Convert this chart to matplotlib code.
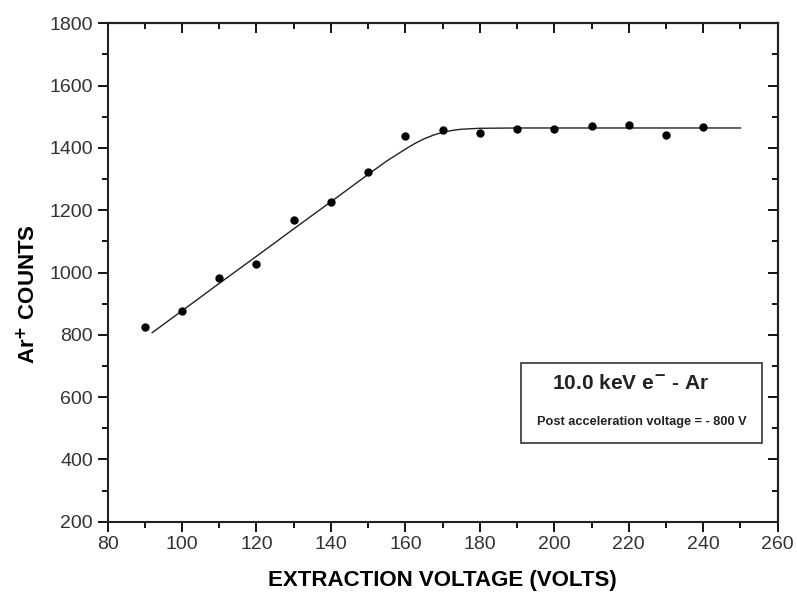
import numpy as np
import matplotlib.pyplot as plt
from matplotlib.ticker import MultipleLocator

plt.rcParams['font.family'] = ['Liberation Sans', 'DejaVu Sans']

voltage = [90, 100, 110, 120, 130, 140, 150, 160, 170, 180, 190, 200, 210, 220, 230, 240]
counts = [824, 878, 983, 1028, 1167, 1225, 1322, 1437, 1457, 1449, 1460, 1460, 1470, 1473, 1441, 1467]

# --- fitted curve ---
fit_v = [92, 100, 110, 120, 130, 140, 150, 155, 160, 162.5, 165, 167.5, 170, 172.5, 175, 180, 190, 250]
fit_c = [807, 877, 965, 1052, 1140, 1227, 1315, 1358, 1396, 1414, 1429, 1441, 1450, 1456, 1460, 1463, 1464, 1464]

x_ticks = [80, 100, 120, 140, 160, 180, 200, 220, 240, 260]
y_ticks = [200, 400, 600, 800, 1000, 1200, 1400, 1600, 1800]

fig = plt.figure(figsize=(7.97, 5.95), dpi=100)
ax = fig.add_axes([0.1349, 0.1232, 0.8409, 0.8376])

ax.plot(fit_v, fit_c, color='#222222', lw=1.0)
ax.plot(voltage, counts, 'o', color='black', ms=5)

ax.set_xlim(80, 260)
ax.set_ylim(200, 1800)
ax.set_xticks(x_ticks)
ax.set_yticks(y_ticks)
ax.xaxis.set_minor_locator(MultipleLocator(10))
ax.yaxis.set_minor_locator(MultipleLocator(100))

# Origin-like ticks: outward on bottom/left, inward on top/right
ax.tick_params(which='both', direction='out', top=False, right=False,
               labelsize=14, labelcolor='#333333', width=1.3)
ax.tick_params(which='major', length=7)
ax.tick_params(which='minor', length=4)
sec_x = ax.secondary_xaxis('top')
sec_x.set_xticks(x_ticks)
sec_x.xaxis.set_minor_locator(MultipleLocator(10))
sec_x.tick_params(which='both', direction='in', labeltop=False, width=1.3)
sec_x.tick_params(which='major', length=7)
sec_x.tick_params(which='minor', length=4)
sec_y = ax.secondary_yaxis('right')
sec_y.set_yticks(y_ticks)
sec_y.yaxis.set_minor_locator(MultipleLocator(100))
sec_y.tick_params(which='both', direction='in', labelright=False, width=1.3)
sec_y.tick_params(which='major', length=7)
sec_y.tick_params(which='minor', length=4)

for s in list(ax.spines.values()):
    s.set_linewidth(1.5)
    s.set_color('#222222')
sec_x.spines['top'].set_linewidth(1.5)
sec_y.spines['right'].set_linewidth(1.5)

ax.set_xlabel('EXTRACTION VOLTAGE (VOLTS)', fontsize=16, fontweight='bold', labelpad=12)
ax.set_ylabel(r'Ar$^{\mathbf{+}}$ COUNTS', fontsize=16, fontweight='bold')
ax.yaxis.set_label_coords(-0.100, 0.457)

# annotation box
ax.add_patch(plt.Rectangle((191.1, 452), 64.8, 258, transform=ax.transData,
                           fill=False, edgecolor='#333333', lw=1.2))
ax.text(220.5, 645, r'10.0 keV e$^{\mathbf{-}}$ - Ar', ha='center', va='center',
        fontsize=15, fontweight='bold', color='#222222')
ax.text(223.5, 520, 'Post acceleration voltage = - 800 V', ha='center', va='center',
        fontsize=9.2, fontweight='bold', color='#222222')

fig.savefig('out.png', dpi=100)
